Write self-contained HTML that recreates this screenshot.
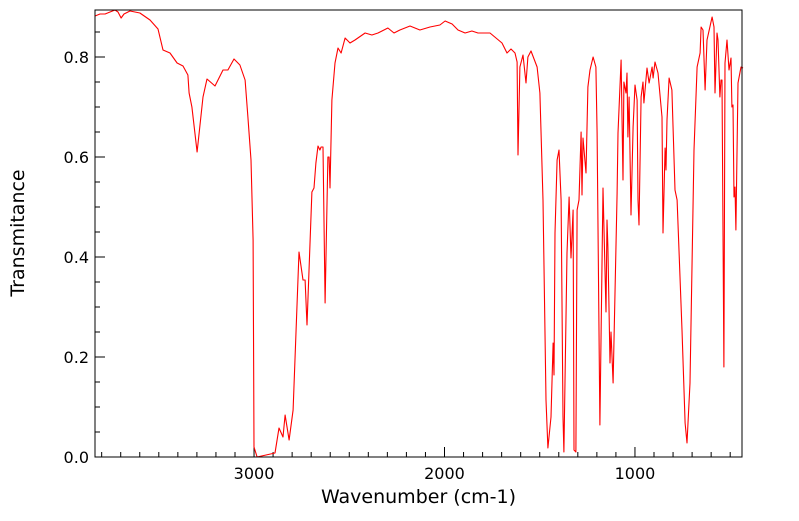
<!DOCTYPE html>
<html><head><meta charset="utf-8"><style>
html,body{margin:0;padding:0;background:#fff;}
svg text{font-family:"DejaVu Sans","Liberation Sans",sans-serif;fill:#000;}
</style></head><body>
<svg id="chart" width="799" height="516" xmlns="http://www.w3.org/2000/svg"></svg>
<script>
const wavenumbers = [3835,3809,3782,3756,3730,3714,3698,3683,3651,3599,3546,3504,3478,3441,3404,3373,3347,3341,3326,3299,3268,3247,3205,3163,3137,3105,3074,3047,3032,3016,3005,3000,2984,2890,2869,2848,2837,2816,2795,2764,2743,2732,2722,2696,2685,2675,2664,2654,2648,2638,2627,2612,2606,2601,2591,2575,2559,2543,2522,2496,2470,2417,2381,2349,2297,2265,2234,2181,2129,2076,2024,1997,1960,1929,1892,1856,1824,1761,1698,1672,1651,1630,1619,1614,1604,1588,1572,1562,1546,1514,1499,1483,1467,1457,1441,1430,1425,1420,1409,1399,1388,1378,1373,1357,1346,1336,1325,1320,1310,1304,1294,1283,1278,1273,1257,1247,1236,1220,1205,1199,1184,1168,1152,1147,1142,1131,1126,1115,1094,1089,1073,1063,1058,1047,1042,1037,1031,1021,1010,1000,989,984,979,968,958,953,937,926,910,905,895,879,858,853,842,837,832,821,806,790,779,753,737,727,711,690,674,658,653,643,632,622,595,585,580,569,564,554,548,543,533,527,517,506,496,491,485,480,475,470,459,443,433];
const transmittance = [.882,.886,.886,.890,.894,.890,.878,.886,.892,.888,.874,.856,.814,.808,.788,.782,.764,.728,.700,.610,.720,.756,.742,.774,.774,.796,.784,.754,.680,.594,.434,.020,0,.008,.058,.040,.084,.034,.094,.410,.354,.354,.264,.530,.538,.588,.622,.614,.620,.620,.308,.600,.600,.538,.714,.788,.818,.808,.838,.828,.834,.848,.844,.848,.858,.848,.854,.862,.854,.860,.864,.872,.866,.854,.848,.852,.848,.848,.828,.808,.816,.808,.790,.604,.780,.804,.748,.800,.812,.780,.728,.514,.114,.018,.080,.228,.164,.448,.594,.614,.514,.080,.010,.408,.520,.398,.494,.014,.010,.494,.514,.650,.524,.638,.568,.740,.774,.800,.780,.648,.064,.538,.290,.474,.420,.188,.250,.148,.528,.648,.794,.554,.750,.728,.768,.640,.720,.484,.660,.744,.714,.514,.464,.720,.750,.708,.778,.748,.780,.758,.790,.768,.680,.448,.618,.574,.674,.758,.734,.534,.514,.254,.068,.028,.148,.614,.780,.808,.860,.854,.734,.834,.880,.860,.728,.848,.834,.720,.754,.754,.180,.788,.834,.774,.798,.700,.704,.520,.540,.454,.748,.780,.778];
const xTickValues = [3000,2000,1000];
const yTickValues = [0,0.2,0.4,0.6,0.8];
const yTickLabels = ["0.0","0.2","0.4","0.6","0.8"];

const L=95,R=742,T=10,B=457;
const X0=3835,X1=438,Y0=0,Y1=0.894;
const sx=w=>L+(X0-w)/(X0-X1)*(R-L);
const sy=v=>B-(v-Y0)/(Y1-Y0)*(B-T);
const NS="http://www.w3.org/2000/svg";
const svg=document.getElementById('chart');
function mk(tag,attrs){const e=document.createElementNS(NS,tag);for(const k in attrs)e.setAttribute(k,attrs[k]);svg.appendChild(e);return e;}

for(let w=3800;w>=500;w-=100){
  const major=w%1000===0;
  const t=mk('line',{x1:sx(w),x2:sx(w),y1:B,y2:B-(major?10:5),stroke:'#000','stroke-width':1});
  
  
}
for(let v=0.05;v<0.894;v+=0.05){
  const major=Math.abs(v*5-Math.round(v*5))<1e-6;
  const t=mk('line',{x1:L,x2:L+(major?10:5),y1:sy(v),y2:sy(v),stroke:'#000','stroke-width':1});
  
  
}
xTickValues.forEach(w=>{
  const t=mk('text',{x:sx(w),y:B+22,'text-anchor':'middle','font-size':16});
  t.textContent=String(w);
  
  
});
yTickValues.forEach((v,i)=>{
  const t=mk('text',{x:L-6,y:sy(v)+6,'text-anchor':'end','font-size':16});
  t.textContent=yTickLabels[i];
  
  
});
let d='';
wavenumbers.forEach((w,i)=>{d+=(i?'L':'M')+sx(w).toFixed(1)+','+sy(transmittance[i]).toFixed(1);});
const line=mk('path',{d:d,fill:'none',stroke:'#ff0000','stroke-width':1.1,'stroke-linejoin':'round'});


const frame=mk('rect',{x:L,y:T,width:R-L,height:B-T,fill:'none',stroke:'#000','stroke-width':1});


const xt=mk('text',{x:(L+R)/2,y:503,'text-anchor':'middle','font-size':19});
xt.textContent='Wavenumber (cm-1)';


const yt=mk('text',{x:0,y:0,'text-anchor':'middle','font-size':19,transform:'translate(24,233) rotate(-90)'});
yt.textContent='Transmitance';


</script>
</body></html>
